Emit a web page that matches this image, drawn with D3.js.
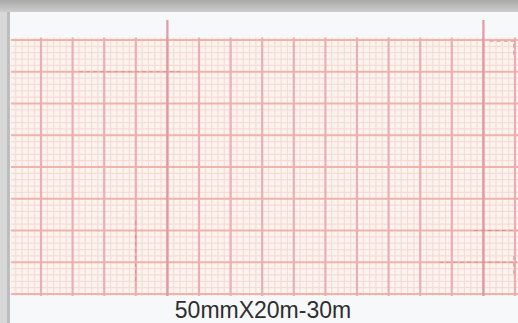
<!DOCTYPE html>
<html>
<head>
<meta charset="utf-8">
<script src="https://cdn.jsdelivr.net/npm/d3@7"></script>
<style>
  html, body { margin: 0; padding: 0; background: #f7f8fa; }
  svg { display: block; }
</style>
</head>
<body>
<svg width="518" height="323"></svg>
<script>
// paper grid, values in mm
const xMinor = d3.range(-4, 76, 1),
  yMinor = d3.range(0, 41, 1),
  xMajor = d3.range(0, 76, 5),
  yMajor = d3.range(0, 41, 5),
  xHeavy = [20, 70],
  label = "50mmX20m-30m";

// small print marks seen on the sheet [x1, y1, x2, y2] in mm
const marks = [
  [6, 5, 22, 5],
  [71, 0.2, 75.3, 0.2],
  [74.8, 0.6, 74.8, 2.5],
  [15, 28.5, 15, 38.5],
  [68.5, 30, 75.3, 30],
  [63, 35, 75.3, 35],
  [74.8, 34, 74.8, 37]
];

const svg = d3.select("svg"),
  width = +svg.attr("width"),
  height = +svg.attr("height");

const x = d3.scaleLinear().domain([0, 75]).range([41, 515]);
const y = d3.scaleLinear().domain([0, 40]).range([40, 294]);

const gx0 = x(-4.75), gx1 = width, gy0 = y(-0.4), gy1 = y(40.3);

const defs = svg.append("defs");
const grad = defs.append("linearGradient")
  .attr("id", "top").attr("x1", 0).attr("x2", 0).attr("y1", 0).attr("y2", 1);
grad.append("stop").attr("offset", 0).attr("stop-color", "#a9a9a9");
grad.append("stop").attr("offset", 1).attr("stop-color", "#cdcdcd");

// scanned look
defs.append("filter").attr("id", "soft")
  .append("feGaussianBlur").attr("stdDeviation", 0.6);

// gray surroundings
svg.append("rect").attr("width", width).attr("height", height).attr("fill", "#f7f8fa");
svg.append("rect").attr("x", 0).attr("y", 0).attr("width", 10).attr("height", height).attr("fill", "#d8d8d8");
svg.append("rect").attr("x", 7).attr("y", 0).attr("width", 3).attr("height", height).attr("fill", "#bdbdbd");
svg.append("rect").attr("x", 0).attr("y", 0).attr("width", width).attr("height", 12).attr("fill", "url(#top)");

// grid field
svg.append("rect")
  .attr("x", gx0).attr("y", gy0)
  .attr("width", gx1 - gx0).attr("height", gy1 - gy0)
  .attr("fill", "#fcf3ee");

const grid = svg.append("g").attr("class", "grid").attr("filter", "url(#soft)");

grid.selectAll("line.vminor")
  .data(xMinor.filter(d => d % 5 !== 0))
  .enter().append("line")
  .attr("class", "vminor")
  .attr("x1", d => x(d)).attr("x2", d => x(d))
  .attr("y1", gy0).attr("y2", gy1)
  .attr("stroke", "#f3dcd9").attr("stroke-width", 1.2);

grid.selectAll("line.hminor")
  .data(yMinor.filter(d => d % 5 !== 0))
  .enter().append("line")
  .attr("class", "hminor")
  .attr("x1", gx0).attr("x2", gx1)
  .attr("y1", d => y(d)).attr("y2", d => y(d))
  .attr("stroke", "#f4ddd3").attr("stroke-width", 1.2);

grid.selectAll("line.hmajor")
  .data(yMajor)
  .enter().append("line")
  .attr("class", "hmajor")
  .attr("x1", gx0).attr("x2", gx1)
  .attr("y1", d => y(d)).attr("y2", d => y(d))
  .attr("stroke", "#efb3aa").attr("stroke-width", 2.2);

grid.selectAll("line.vmajor")
  .data(xMajor)
  .enter().append("line")
  .attr("class", "vmajor")
  .attr("x1", d => x(d)).attr("x2", d => x(d))
  .attr("y1", gy0).attr("y2", gy1)
  .attr("stroke", "#ecadb5").attr("stroke-width", 2.2);

grid.selectAll("line.heavy")
  .data(xHeavy)
  .enter().append("line")
  .attr("class", "heavy")
  .attr("x1", d => x(d)).attr("x2", d => x(d))
  .attr("y1", 20).attr("y2", gy1)
  .attr("stroke", "#df9ca7").attr("stroke-width", 2.2);

grid.selectAll("line.mark")
  .data(marks)
  .enter().append("line")
  .attr("class", "mark")
  .attr("x1", d => x(d[0])).attr("y1", d => y(d[1]))
  .attr("x2", d => x(d[2])).attr("y2", d => y(d[3]))
  .attr("stroke", "#c9867e").attr("stroke-width", 1)
  .attr("stroke-dasharray", "4,3")
  .attr("opacity", 0.7);

svg.append("text")
  .attr("x", 263).attr("y", 318)
  .attr("text-anchor", "middle")
  .attr("font-family", "Liberation Sans, Arial, sans-serif")
  .attr("font-size", 23)
  .attr("fill", "#2e2e2e")
  .text(label);
</script>
</body>
</html>
